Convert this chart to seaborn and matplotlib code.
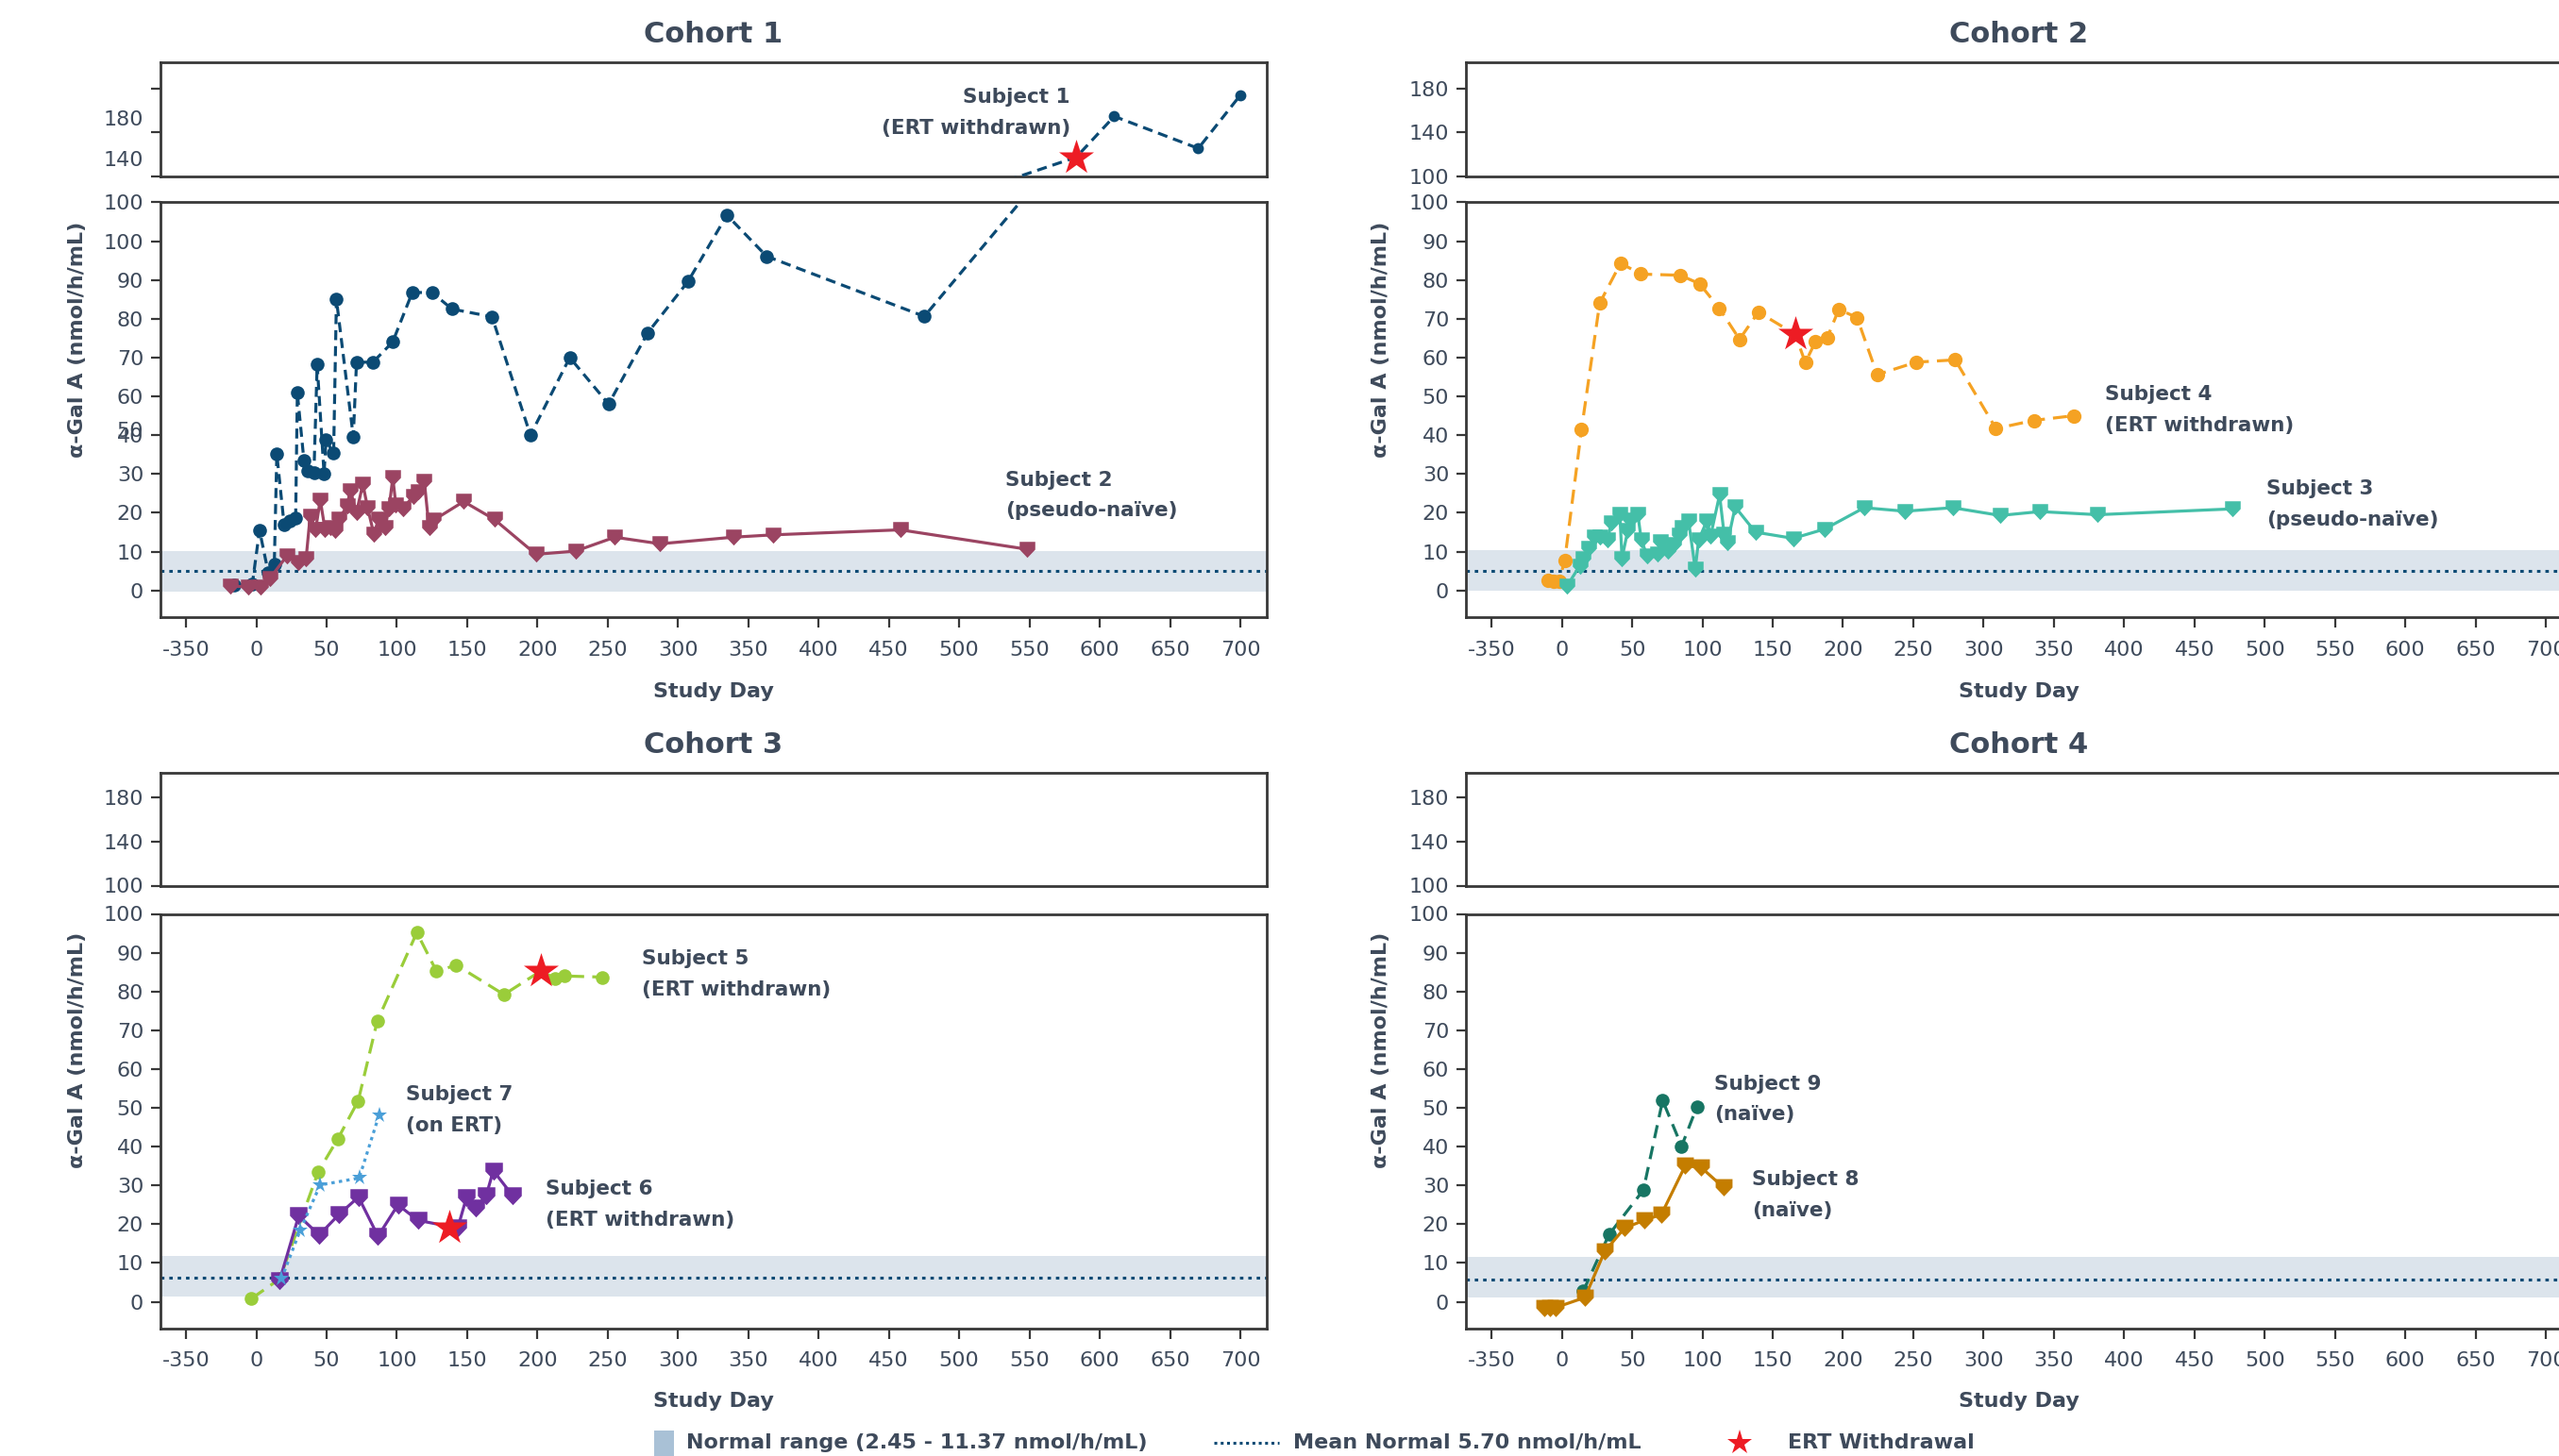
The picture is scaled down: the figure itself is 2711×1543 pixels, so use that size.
import numpy as np
import pandas as pd
import matplotlib
matplotlib.use("Agg")
import matplotlib.pyplot as plt
import seaborn as sns
from matplotlib.path import Path
from matplotlib.lines import Line2D
from matplotlib.patches import Rectangle

# ---------------------------------------------------------------- data
day_ticks = [-50, 0, 50, 100, 150, 200, 250, 300, 350, 400, 450, 500, 550, 600, 650, 700]
day_tick_labels = ['-350', '0', '50', '100', '150', '200', '250', '300', '350',
                   '400', '450', '500', '550', '600', '650', '700']

lower_ticks = [0, 10, 20, 30, 40, 50, 60, 70, 80, 90, 100]
lower_labels = ['0', '10', '20', '30', '40', '50', '60', '70', '80', '90', '100']
upper_ticks = [100, 140, 180]
upper_labels = ['100', '140', '180']

# Cohort 1 axis labelling as printed
c1_lower_labels = ['0', '10', '20', '30', '40', '60', '70', '80', '90', '100', '100']
c1_lower_extra_pos = [41.5]
c1_lower_extra_labels = ['50']
c1_upper_labels = ['', '', '']
c1_upper_extra_pos = [115.8, 152.9]
c1_upper_extra_labels = ['140', '180']

cohort_titles = ['Cohort 1', 'Cohort 2', 'Cohort 3', 'Cohort 4']

# normal range band and mean normal line per panel
band_lo = [-0.4, 0.0, 1.3, 1.0]
band_hi = [10.1, 10.3, 11.8, 11.5]
mean_normal = [5.0, 5.1, 6.2, 5.75]

# Cohort 1
s1_day = [-15.5, -2.8, 2.3, 8.5, 12.8, 14.6, 19.8, 23.5, 28.0, 29.2, 33.9, 36.3, 41.0,
          43.3, 48.2, 49.6, 55.0, 57.0, 69.0, 71.3, 83.0, 97.0, 111.0, 125.2, 139.2,
          167.7, 195.0, 223.0, 250.6, 278.5, 307.1, 334.8, 363.0, 475.2, 583.3, 610.3,
          670.1, 700.0]
s1_val = [1.3, 1.7, 15.5, 4.6, 6.6, 35.1, 16.9, 17.9, 18.7, 50.9, 33.4, 30.9, 30.2,
          58.2, 30.1, 38.7, 35.3, 75.0, 39.6, 58.8, 58.8, 64.0, 76.8, 76.7, 72.5,
          70.5, 40.0, 60.0, 48.0, 66.4, 79.6, 96.7, 86.1, 70.6, 117.3, 154.5,
          125.3, 173.8]

s2_day = [-18.4, -6.0, 3.0, 9.7, 22.0, 29.8, 35.4, 38.3, 42.2, 45.5, 48.9, 52.7, 56.3,
          59.0, 64.6, 66.8, 71.3, 75.8, 79.2, 83.7, 87.0, 91.5, 94.4, 97.1, 99.3,
          104.2, 111.6, 115.0, 119.5, 122.9, 126.2, 147.5, 169.3, 198.9, 227.0,
          255.0, 287.2, 339.2, 367.3, 458.1, 548.2]
s2_val = [1.1, 0.9, 0.9, 3.1, 9.0, 7.2, 8.1, 19.1, 15.7, 23.3, 15.7, 16.1, 15.4,
          18.5, 21.7, 25.8, 20.1, 27.4, 21.3, 14.4, 18.5, 16.1, 21.1, 29.0, 22.1,
          21.1, 24.2, 25.4, 28.2, 16.1, 18.1, 22.9, 18.3, 9.3, 10.1,
          13.7, 12.0, 13.7, 14.3, 15.6, 10.6]

# Cohort 2
s4_day = [-9.5, -5.5, -2.0, 2.0, 14.0, 26.9, 41.8, 56.3, 84.3, 98.0, 112.0, 126.4,
          139.8, 166.0, 173.2, 180.3, 188.9, 197.0, 210.0, 224.3, 252.0, 279.8,
          308.8, 335.7, 363.9]
s4_val = [2.6, 2.3, 2.4, 7.6, 41.5, 74.0, 84.3, 81.5, 81.2, 79.0, 72.7, 64.7,
          71.7, 66.0, 58.7, 64.0, 65.2, 72.4, 70.3, 55.6, 58.8, 59.4,
          41.7, 43.8, 45.0]

s3_day = [3.8, 12.7, 15.1, 19.2, 22.8, 27.1, 32.4, 35.3, 41.3, 42.8, 46.9, 48.8, 54.1,
          56.5, 60.6, 68.0, 70.4, 75.7, 79.8, 83.4, 85.3, 90.1, 94.9, 97.3, 103.3,
          105.8, 112.2, 115.4, 117.8, 123.3, 137.7, 164.6, 187.0, 215.1, 244.0,
          278.1, 311.8, 340.1, 381.3, 477.0]
s3_val = [1.2, 6.3, 8.3, 10.9, 13.8, 13.8, 13.0, 17.4, 19.5, 8.3, 15.4, 18.2, 19.5,
          13.0, 9.0, 9.4, 12.6, 10.2, 11.8, 14.2, 16.2, 18.0, 5.5, 13.0, 18.0,
          14.0, 24.6, 14.6, 12.2, 21.5, 15.0, 13.4, 15.8, 21.3, 20.4,
          21.3, 19.3, 20.3, 19.5, 21.0]

# Cohort 3
s5_day = [-3.5, 16.7, 44.0, 58.0, 72.5, 86.0, 114.2, 128.2, 142.3, 176.2, 202.5,
          212.8, 219.0, 246.4]
s5_val = [0.8, 5.9, 33.5, 42.0, 51.8, 72.3, 95.2, 85.2, 86.8, 79.2, 85.3,
          83.3, 84.0, 83.7]

s6_day = [16.7, 30.2, 44.7, 58.8, 72.7, 86.6, 100.8, 114.9, 143.3, 149.6, 156.3,
          163.5, 168.6, 182.5]
s6_val = [5.6, 22.2, 17.2, 22.5, 27.0, 16.9, 25.0, 21.0, 19.0, 27.0, 24.3,
          27.3, 33.8, 27.3]

s7_day = [17.9, 31.3, 45.4, 73.2, 87.3]
s7_val = [5.9, 18.5, 30.1, 31.9, 48.1]

# Cohort 4
s9_day = [15.3, 33.5, 58.0, 71.7, 85.2, 96.0]
s9_val = [2.8, 17.3, 28.8, 51.9, 40.1, 50.2]

s8_day = [-12.5, -8.5, -4.5, 16.4, 30.5, 44.6, 58.5, 70.8, 87.8, 99.2, 114.9]
s8_val = [-1.5, -1.5, -1.5, 1.1, 13.0, 19.0, 21.0, 22.5, 35.1, 34.6, 29.5]

# ERT withdrawal events (cohort index, day, value)
ert_cohort = [0, 1, 2, 2]
ert_day = [583.3, 166.0, 202.5, 137.3]
ert_val = [117.3, 66.0, 85.3, 19.0]

# ---------------------------------------------------------------- styling
sns.set_style("ticks")
plt.rcParams['font.family'] = ['DejaVu Sans']

W, H, DPI = 2711, 1543, 100
TEXT = '#3E4A5B'
NAVY = '#0B4A74'
SPINE = '#383838'
BAND = '#DCE4EC'
RED = '#ED1C24'

shield = Path([(-1, 1), (1, 1), (1, 0), (0, -1.05), (-1, 0), (-1, 1)],
              [Path.MOVETO, Path.LINETO, Path.LINETO, Path.LINETO, Path.LINETO, Path.CLOSEPOLY])

fig = plt.figure(figsize=(W / DPI, H / DPI), dpi=DPI)


def px_rect(left, top, right, bottom):
    return [left / W, 1 - bottom / H, (right - left) / W, (bottom - top) / H]


col_left = [169.5, 1552.6]
col_width = 1172.2
rows = [((65.7, 186.7), (214.4, 653.6)), ((818.5, 938.5), (968.5, 1407.5))]
title_y = [36.4, 790.0]
xlabel_y = [733.0, 1485.0]
ylabel_x = [82.0, 1463.0]
XLIM = (-68.5, 718.6)
LOWER_LIM = (-6.8, 100)
UPPER_TOP = [204, 203]


def style_axis(ax):
    for sp in ax.spines.values():
        sp.set_visible(True)
        sp.set_color(SPINE)
        sp.set_linewidth(2.0)
    ax.set_xlabel('')
    ax.set_ylabel('')
    ax.grid(False)


def draw_series(ax, days, vals, color, marker, ms, ls, lw=2.3, z=3, markevery=None):
    df = pd.DataFrame({'day': days, 'val': vals})
    sns.lineplot(data=df, x='day', y='val', ax=ax, color=color, marker=marker,
                 markersize=ms, linestyle=ls, linewidth=lw, markeredgewidth=0,
                 markeredgecolor=color, estimator=None, sort=False, zorder=z,
                 markevery=markevery)


def ert_stars(ax, idx):
    d = [ert_day[i] for i in range(len(ert_day)) if ert_cohort[i] == idx]
    v = [ert_val[i] for i in range(len(ert_val)) if ert_cohort[i] == idx]
    if d:
        sns.scatterplot(x=d, y=v, ax=ax, marker='*', s=28 ** 2, color=RED,
                        linewidth=0, zorder=6)


axes = []
for k in range(4):
    r, c = divmod(k, 2)
    left = col_left[c]
    (ut, ub), (lt, lb) = rows[r]
    ax_up = fig.add_axes(px_rect(left, ut, left + col_width, ub))
    ax_lo = fig.add_axes(px_rect(left, lt, left + col_width, lb))
    axes.append((ax_up, ax_lo))

    # normal range and mean normal
    ax_lo.axhspan(band_lo[k], band_hi[k], color=BAND, lw=0, zorder=0)
    ax_lo.axhline(mean_normal[k], color=NAVY, lw=2.2, linestyle=(0, (1.2, 1.7)), zorder=1)

# series ------------------------------------------------------------
dash1 = (0, (3.3, 2.0))
# the broken axis: the upper panel only marks the points that lie above the break
upper_idx = [i for i, v in enumerate(s1_val) if v >= 100]
lower_idx = [i for i, v in enumerate(s1_val) if v < 100]
draw_series(axes[0][0], s1_day, s1_val, NAVY, 'o', 8.5, dash1, markevery=upper_idx)
draw_series(axes[0][1], s1_day, s1_val, NAVY, 'o', 10.5, dash1, markevery=lower_idx)
draw_series(axes[0][1], s2_day, s2_val, '#9B4462', shield, 12.5, '-')

draw_series(axes[1][1], s4_day, s4_val, '#F5A223', 'o', 11, (0, (4.7, 2.7)))
draw_series(axes[1][1], s3_day, s3_val, '#44BFA8', shield, 12.5, '-')

draw_series(axes[2][1], s5_day, s5_val, '#9ACD3A', 'o', 10.5, (0, (5.0, 2.7)))
draw_series(axes[2][1], s6_day, s6_val, '#7030A0', shield, 14, '-')
draw_series(axes[2][1], s7_day, s7_val, '#4A9FD8', '*', 12.5, (0, (1.1, 1.4)))

draw_series(axes[3][1], s9_day, s9_val, '#177563', 'o', 10.5, (0, (4.4, 2.7)))
draw_series(axes[3][1], s8_day, s8_val, '#C47D00', shield, 13.5, '-')

ert_stars(axes[0][0], 0)
ert_stars(axes[1][1], 1)
ert_stars(axes[2][1], 2)

# axes formatting ----------------------------------------------------
for k, (ax_up, ax_lo) in enumerate(axes):
    r = k // 2
    for ax in (ax_up, ax_lo):
        style_axis(ax)
        ax.set_xlim(*XLIM)
        ax.tick_params(axis='y', which='major', length=7, width=1.6, color=SPINE,
                       pad=5.5, labelsize=16, labelcolor=TEXT)
    ax_up.set_ylim(100, UPPER_TOP[r])
    ax_up.set_xticks([])
    ax_up.set_yticks(upper_ticks)
    ax_lo.set_ylim(*LOWER_LIM)
    ax_lo.set_yticks(lower_ticks)
    ax_lo.set_xticks(day_ticks)
    ax_lo.set_xticklabels(day_tick_labels)
    ax_lo.tick_params(axis='x', length=8, width=1.6, color=SPINE, pad=10,
                      labelsize=16, labelcolor=TEXT)
    if k == 0:
        ax_up.set_yticklabels(c1_upper_labels)
        ax_up.set_yticks(c1_upper_extra_pos, minor=True)
        ax_up.set_yticklabels(c1_upper_extra_labels, minor=True)
        ax_lo.set_yticklabels(c1_lower_labels)
        ax_lo.set_yticks(c1_lower_extra_pos, minor=True)
        ax_lo.set_yticklabels(c1_lower_extra_labels, minor=True)
        for ax in (ax_up, ax_lo):
            ax.tick_params(axis='y', which='minor', length=0, pad=5.5 + 7,
                           labelsize=16, labelcolor=TEXT)
    else:
        ax_up.set_yticklabels(upper_labels)
        ax_lo.set_yticklabels(lower_labels)

# titles and axis labels ----------------------------------------------
for k in range(4):
    r, c = divmod(k, 2)
    cx = col_left[c] + col_width / 2
    fig.text(cx / W, 1 - title_y[r] / H, cohort_titles[k], ha='center', va='center',
             fontsize=22, fontweight='bold', color=TEXT)
    fig.text(cx / W, 1 - xlabel_y[r] / H, 'Study Day', ha='center', va='center',
             fontsize=16, fontweight='bold', color=TEXT)
    (ut, ub), (lt, lb) = rows[r]
    fig.text(ylabel_x[c] / W, 1 - ((ut + lb) / 2) / H, 'α-Gal A (nmol/h/mL)',
             rotation=90, ha='center', va='center', fontsize=16, fontweight='bold',
             color=TEXT)

# subject annotations: (x, y line 1, y line 2, text 1, text 2, align)
notes = [
    (1134, 103.4, 136.0, 'Subject 1', '(ERT withdrawn)', 'right'),
    (1065, 508.7, 541.0, 'Subject 2', '(pseudo-naïve)', 'left'),
    (2230, 418.0, 451.0, 'Subject 4', '(ERT withdrawn)', 'left'),
    (2401, 518.0, 551.0, 'Subject 3', '(pseudo-naïve)', 'left'),
    (680, 1016.0, 1048.5, 'Subject 5', '(ERT withdrawn)', 'left'),
    (429.5, 1160.0, 1192.5, 'Subject 7', '(on ERT)', 'left'),
    (578, 1260.0, 1292.5, 'Subject 6', '(ERT withdrawn)', 'left'),
    (1816, 1149.0, 1181.5, 'Subject 9', '(naïve)', 'left'),
    (1855.7, 1250.0, 1282.5, 'Subject 8', '(naïve)', 'left'),
]
for x, y1, y2, t1, t2, ha in notes:
    for yy, tt in ((y1, t1), (y2, t2)):
        fig.text(x / W, 1 - yy / H, tt, ha=ha, va='center', fontsize=15.5,
                 fontweight='bold', color=TEXT)

# legend row -----------------------------------------------------------
leg_y = 1529.0
fig.add_artist(Rectangle((693 / W, 0), 21 / W, (H - 1516) / H, transform=fig.transFigure,
                         facecolor='#A9C1D6', edgecolor='none'))
fig.text(727 / W, 1 - leg_y / H, 'Normal range (2.45 - 11.37 nmol/h/mL)', ha='left',
         va='center', fontsize=16, fontweight='bold', color=TEXT)
fig.add_artist(Line2D([1286 / W, 1355 / W], [1 - leg_y / H] * 2, transform=fig.transFigure,
                      color=NAVY, lw=2.2, linestyle=(0, (1.0, 1.2))))
fig.text(1370 / W, 1 - leg_y / H, 'Mean Normal 5.70 nmol/h/mL', ha='left', va='center',
         fontsize=16, fontweight='bold', color=TEXT)
fig.add_artist(Line2D([1843 / W], [1 - leg_y / H], transform=fig.transFigure, marker='*',
                      markersize=20, color=RED, markeredgewidth=0, linestyle='none'))
fig.text(1894 / W, 1 - leg_y / H, 'ERT Withdrawal', ha='left', va='center', fontsize=16,
         fontweight='bold', color=TEXT)

fig.savefig('out.png', dpi=DPI)
